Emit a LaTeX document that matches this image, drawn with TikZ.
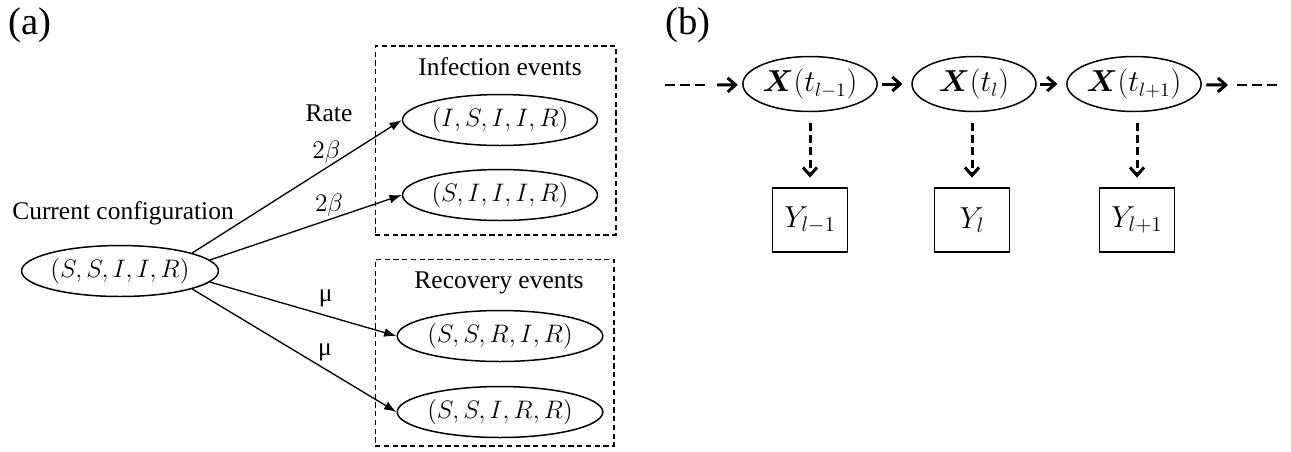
\documentclass[tikz,border=0pt]{standalone}
\usepackage{amsmath}
\usepackage{amssymb}
\usepackage{fontspec}
\setmainfont{Liberation Serif}
\usetikzlibrary{arrows.meta,shapes.geometric}

\tikzset{
  txt/.style={inner sep=0pt, font=\fontsize{14.5}{16}\selectfont},
  panel/.style={inner sep=0pt, font=\fontsize{22}{24}\selectfont},
  state/.style={draw, ellipse, line width=0.85pt, minimum width=3.9cm, minimum height=1.02cm, inner sep=0pt, font=\fontsize{14}{16}\selectfont},
  frame/.style={draw, rectangle, line width=0.6pt, dash pattern=on 3pt off 2pt, inner sep=0pt},
  rate/.style={-{Latex[length=7pt,width=5pt]}, line width=0.75pt},
  hid/.style={draw, ellipse, line width=0.85pt, minimum width=2.48cm, minimum height=1.1cm, inner sep=0pt, font=\fontsize{16}{18}\selectfont},
  obs/.style={draw, rectangle, line width=0.85pt, minimum width=1.5cm, minimum height=1.28cm, inner sep=0pt, font=\fontsize{17}{19}\selectfont},
  chain/.style={-{Straight Barb[length=4.5pt,width=8pt,line width=1.7pt]}, line width=1.7pt},
  emit/.style={chain, dash pattern=on 4.5pt off 2.5pt},
  dots/.style={line width=0.8pt, dash pattern=on 5.5pt off 3pt}
}

\begin{document}
\begin{tikzpicture}[x=0.02cm, y=-0.02cm]
\useasboundingbox (0,0) rectangle (1291,451);

% (a) transitions from the current configuration
\node[panel] (taga) at (30,25) {(a)};
\node[txt] (curlbl) at (123,213) {Current configuration};
\node[state] (cur) at (120,271) {$(S, S, I, I, R)$};
\node[frame, minimum width=4.82cm, minimum height=3.78cm] (infbox) at (495.5,140.5) {};
\node[frame, minimum width=4.78cm, minimum height=3.74cm] (recbox) at (494.5,352.5) {};
\node[txt] (inflbl) at (500,67) {Infection events};
\node[txt] (reclbl) at (499,283) {Recovery events};
\node[state] (inf1) at (500,120) {$(I, S, I, I, R)$};
\node[state] (inf2) at (500,195) {$(S, I, I, I, R)$};
\node[state] (rec1) at (500,336) {$(S, S, R, I, R)$};
\node[state] (rec2) at (500,412) {$(S, S, I, R, R)$};
\node[txt] (ratelbl) at (329,113) {Rate};

\draw[rate] (cur.14) -- node[txt, pos=0.64, yshift=9pt] (r1) {$2\beta$} (inf1.west);
\draw[rate] (cur.7) -- node[txt, pos=0.62, yshift=8.5pt] (r2) {$2\beta$} (inf2.west);
\draw[rate] (cur.-7) -- node[txt, pos=0.62, yshift=9.5pt] (r3) {μ} (rec1.west);
\draw[rate] (cur.-14) -- node[txt, pos=0.65, yshift=9.5pt] (r4) {μ} (rec2.west);

% (b) hidden chain and observations
\node[panel] (tagb) at (688,25) {(b)};
\node[hid] (x1) at (810,84) {$\boldsymbol{X}(t_{l-1})$};
\node[hid] (x2) at (974,84) {$\boldsymbol{X}(t_l)$};
\node[hid] (x3) at (1134,84) {$\boldsymbol{X}(t_{l+1})$};
\node[obs] (y1) at (810,220) {$Y_{l-1}$};
\node[obs] (y2) at (972,220) {$Y_l$};
\node[obs] (y3) at (1137,220) {$Y_{l+1}$};
\coordinate (ina) at (665,85);
\coordinate (inb) at (707,85);
\coordinate (inc) at (717,85);
\coordinate (outa) at (1228,85);
\coordinate (outb) at (1237,85);
\coordinate (outc) at (1280,85);

\draw[dots] (ina) -- (inb);
\draw[chain, shorten >=2.5pt] (inc) -- (x1);
\draw[chain, shorten <=2.5pt, shorten >=5pt] (x1) -- (x2);
\draw[chain, shorten <=2pt, shorten >=5pt] (x2) -- (x3);
\draw[chain, shorten <=2.5pt] (x3) -- (outa);
\draw[dots] (outb) -- (outc);
\draw[emit, shorten <=6pt, shorten >=5.5pt] (x1) -- (y1);
\draw[emit, shorten <=6pt, shorten >=5.5pt] (x2.south -| y2) -- (y2);
\draw[emit, shorten <=6pt, shorten >=5.5pt] (x3.south -| y3) -- (y3);
\end{tikzpicture}
\end{document}
